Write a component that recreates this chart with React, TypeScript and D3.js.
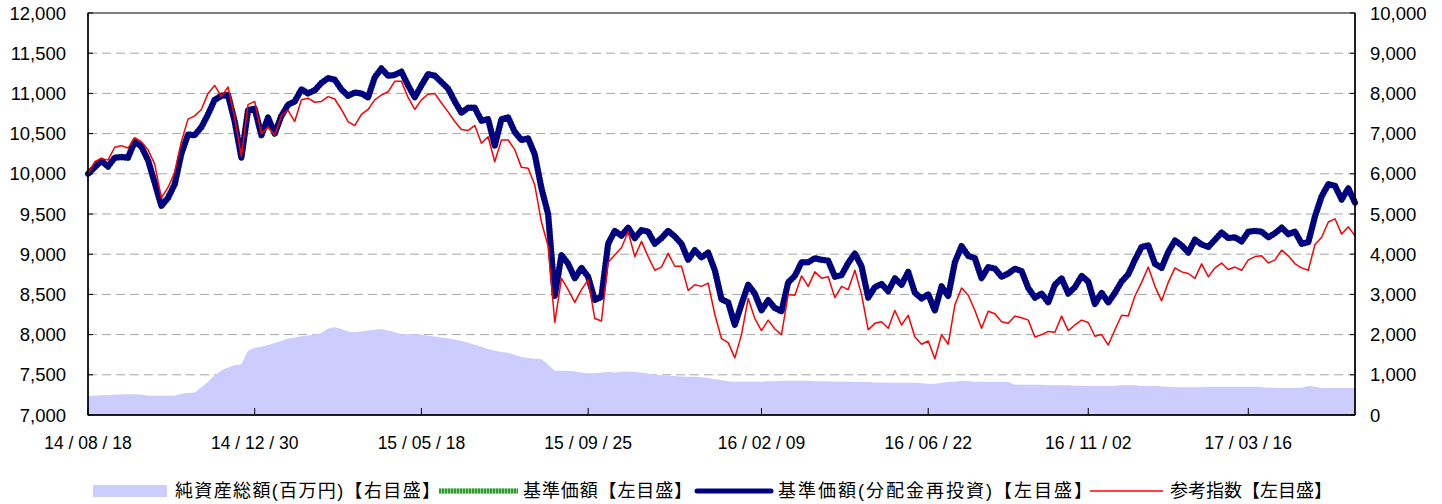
import * as d3 from "d3";

// 日次データを約3.6営業日ごとに読み取った値（左目盛）
const navReinvested = [
  10000, 10080, 10160, 10090, 10200, 10210, 10200, 10400, 10340, 10170,
  9890, 9600, 9700, 9870, 10250, 10490, 10480, 10580, 10740, 10920,
  10970, 10980, 10650, 10200, 10790, 10810, 10480, 10700, 10500, 10720,
  10860, 10900, 11050, 11000, 11040, 11130, 11190, 11170, 11050, 10970,
  11010, 11000, 10950, 11200, 11310, 11220, 11230, 11270, 11100, 10950,
  11100, 11240, 11220, 11140, 11060, 10900, 10760, 10820, 10820, 10660,
  10680, 10350, 10680, 10700, 10520, 10420, 10440, 10240, 9820, 9500,
  8480, 8990, 8880, 8700, 8830, 8720, 8430, 8470, 9130, 9290,
  9230, 9330, 9200, 9300, 9280, 9130, 9200, 9290, 9220, 9130,
  8930, 9050, 8960, 9020, 8800, 8440, 8400, 8120, 8380, 8620,
  8510, 8300, 8430, 8330, 8290, 8650, 8730, 8900, 8900, 8950,
  8930, 8920, 8720, 8740, 8890, 9010, 8850, 8460, 8590, 8630,
  8540, 8700, 8620, 8780, 8520, 8450, 8500, 8300, 8600, 8480,
  8900, 9100, 8980, 8950, 8700, 8840, 8820, 8720, 8760, 8820,
  8790, 8580, 8460, 8510, 8400, 8620, 8700, 8510, 8590, 8730,
  8660, 8380, 8520, 8400, 8520, 8660, 8750, 8930, 9090, 9110,
  8880, 8830, 9030, 9170, 9110, 9020, 9180, 9120, 9090, 9180,
  9270, 9200, 9210, 9160, 9280, 9290, 9280, 9210, 9260, 9330,
  9250, 9280, 9130, 9150, 9470, 9720, 9870, 9850, 9680, 9820,
  9640,
];

// 分配実績なし：基準価額は分配金再投資後と同じ値
const nav = navReinvested;

const benchmark = [
  10000, 10150, 10190, 10170, 10330, 10350, 10320, 10450, 10400, 10300,
  10120, 9700, 9830, 10020, 10400, 10680, 10720, 10800, 11000, 11100,
  10960, 11080, 10700, 10220, 10860, 10900, 10500, 10580, 10480, 10720,
  10790, 10650, 10920, 10940, 10890, 10900, 10960, 10930, 10800, 10650,
  10600, 10740, 10800, 10920, 10980, 11020, 11150, 11150, 10950, 10800,
  10920, 10990, 11000, 10880, 10770, 10650, 10550, 10540, 10600, 10380,
  10460, 10150, 10420, 10420, 10300, 10080, 10070, 9860, 9400, 9100,
  8150, 8700, 8560, 8400, 8560, 8680, 8200, 8170, 8900, 8990,
  9080, 9280, 8970, 9160, 8970, 8800, 8840, 9010, 8850, 8850,
  8550, 8620, 8600, 8640, 8250, 7950, 7900, 7710, 8000, 8450,
  8200, 8050, 8180, 8070, 8000, 8500, 8490, 8730, 8600, 8780,
  8700, 8720, 8460, 8600, 8560, 8800, 8500, 8060, 8140, 8160,
  8080, 8300, 8120, 8240, 7970, 7880, 7920, 7700, 8000, 7880,
  8370, 8580, 8490, 8300, 8080, 8290, 8260, 8160, 8140, 8230,
  8210, 8180, 7970, 8000, 8040, 8030, 8230, 8050, 8120, 8180,
  8150, 7980, 8000, 7870, 8060, 8240, 8230, 8480, 8650, 8840,
  8600, 8420, 8650, 8830, 8780, 8760, 8700, 8880, 8720, 8830,
  8890, 8810, 8840, 8800, 8930, 8970, 8980, 8890, 8930, 9050,
  8980, 8880, 8830, 8800, 9120, 9210, 9400, 9440, 9250, 9340,
  9230,
];

// 純資産総額（百万円、右目盛）
const netAssets = [
  480, 480, 490, 490, 510, 510, 515, 515, 510, 480,
  480, 480, 480, 480, 530, 550, 560, 690, 830, 990,
  1110, 1180, 1240, 1260, 1600, 1670, 1700, 1740, 1790, 1840,
  1900, 1930, 1960, 1980, 2000, 2040, 2150, 2180, 2140, 2080,
  2060, 2080, 2100, 2120, 2140, 2100, 2060, 2010, 2010, 2010,
  2000, 1970, 1950, 1930, 1910, 1880, 1840, 1800, 1750, 1700,
  1640, 1600, 1570, 1550, 1500, 1440, 1420, 1400, 1390, 1250,
  1100, 1100, 1100, 1080, 1060, 1040, 1040, 1060, 1070, 1060,
  1080, 1080, 1070, 1050, 1030, 1000, 990, 980, 970, 960,
  950, 950, 940, 920, 890, 870, 840, 830, 830, 830,
  830, 830, 840, 840, 850, 850, 850, 850, 850, 840,
  840, 840, 830, 830, 830, 820, 820, 820, 810, 810,
  800, 800, 800, 800, 800, 790, 770, 780, 800, 820,
  830, 850, 840, 830, 830, 820, 820, 820, 820, 750,
  750, 750, 750, 750, 740, 740, 740, 740, 730, 730,
  720, 720, 720, 720, 730, 740, 740, 740, 720, 720,
  720, 710, 700, 690, 690, 690, 690, 690, 700, 700,
  700, 700, 700, 700, 700, 700, 690, 680, 680, 670,
  670, 670, 680, 720, 700, 670, 670, 670, 670, 670,
  670,
];

const dateLabels = ["14/08/18", "14/12/30", "15/05/18", "15/09/25", "16/02/09", "16/06/22", "16/11/02", "17/03/16"];
const dateIndex = [0, 25, 50, 75, 101, 126, 150, 174];
const leftTicks = [7000, 7500, 8000, 8500, 9000, 9500, 10000, 10500, 11000, 11500, 12000];
const rightTicks = [0, 1000, 2000, 3000, 4000, 5000, 6000, 7000, 8000, 9000, 10000];

const W = 1442;
const H = 504;
const FONT = "'Liberation Sans', Arial, 'Noto Sans CJK JP', sans-serif";

export default function App() {
  const m = { left: 88, right: 1355, top: 13, bottom: 415 };

  const x = d3.scaleLinear().domain([0, navReinvested.length - 1]).range([m.left, m.right]);
  const yL = d3.scaleLinear().domain([7000, 12000]).range([m.bottom, m.top]);
  const yR = d3.scaleLinear().domain([0, 10000]).range([m.bottom, m.top]);

  const lineL = d3.line<number>().x((_, i) => x(i)).y(d => yL(d));
  const area = d3.area<number>().x((_, i) => x(i)).y0(yR(0)).y1(d => yR(d));

  const fmt = d3.format(",");
  const legendY = 491;

  return (
    <svg width={W} height={H} style={{ position: "absolute", left: 0, top: 0, display: "block", background: "#fff" }} fontFamily={FONT}>
      {/* grid */}
      {leftTicks.slice(1, -1).map(t => (
        <line key={"g" + t} x1={m.left} x2={m.right} y1={yL(t)} y2={yL(t)} stroke="#a6a6a6" strokeWidth={1} strokeDasharray="9,5" />
      ))}

      {/* net assets area */}
      <path d={area(netAssets) ?? ""} fill="#ccccff" />

      {/* NAV lines */}
      <path d={lineL(nav) ?? ""} fill="none" stroke="#2f9a2f" strokeWidth={6.5} strokeDasharray="1.5,1.5" strokeLinejoin="round" />
      <path d={lineL(navReinvested) ?? ""} fill="none" stroke="#000080" strokeWidth={6} strokeLinejoin="round" strokeLinecap="round" />
      <path d={lineL(benchmark) ?? ""} fill="none" stroke="#ff0000" strokeWidth={1.5} strokeLinejoin="round" />

      {/* frame */}
      <rect x={m.left} y={m.top} width={m.right - m.left} height={m.bottom - m.top} fill="none" stroke="#000" strokeWidth={1} />
      <line x1={m.left} x2={m.left} y1={m.top} y2={m.bottom} stroke="#000" strokeWidth={1.5} />
      <line x1={m.right} x2={m.right} y1={m.top} y2={m.bottom} stroke="#000" strokeWidth={1.5} />
      <line x1={m.left} x2={m.right} y1={m.bottom} y2={m.bottom} stroke="#000" strokeWidth={1.5} />

      {/* left axis */}
      {leftTicks.map(t => (
        <g key={"l" + t}>
          <line x1={m.left} x2={m.left + 5} y1={yL(t)} y2={yL(t)} stroke="#000" />
          <text x={66} y={yL(t)} textAnchor="end" dominantBaseline="central" fontSize={18.5} fill="#000">{fmt(t)}</text>
        </g>
      ))}

      {/* right axis */}
      {rightTicks.map(t => (
        <g key={"r" + t}>
          <line x1={m.right - 5} x2={m.right} y1={yR(t)} y2={yR(t)} stroke="#000" />
          <text x={1370} y={yR(t)} textAnchor="start" dominantBaseline="central" fontSize={18.5} fill="#000">{fmt(t)}</text>
        </g>
      ))}

      {/* x axis */}
      {dateIndex.map((d, i) => (
        <g key={"x" + d}>
          <line x1={x(d)} x2={x(d)} y1={m.bottom} y2={m.bottom - 7} stroke="#000" />
          <text x={x(d)} y={443} textAnchor="middle" dominantBaseline="central" fontSize={17.5} fill="#000">
            {dateLabels[i].split("/").join(" / ")}
          </text>
        </g>
      ))}

      {/* legend */}
      <g fontSize={18} fill="#000">
        <rect x={93} y={485} width={74} height={12} fill="#ccccff" />
        <text x={175} y={legendY} dominantBaseline="central" textLength={265} lengthAdjust="spacing">純資産総額(百万円)【右目盛】</text>

        <line x1={439} x2={518} y1={legendY} y2={legendY} stroke="#8fd08f" strokeWidth={5} />
        <line x1={439} x2={518} y1={legendY} y2={legendY} stroke="#2f9a2f" strokeWidth={5} strokeDasharray="2,1" />
        <text x={523} y={legendY} dominantBaseline="central" textLength={169} lengthAdjust="spacing">基準価額【左目盛】</text>

        <line x1={697} x2={771} y1={legendY} y2={legendY} stroke="#000080" strokeWidth={5} strokeLinecap="round" />
        <text x={778} y={legendY} dominantBaseline="central" textLength={314} lengthAdjust="spacing">基準価額(分配金再投資)【左目盛】</text>

        <line x1={1090} x2={1163} y1={legendY} y2={legendY} stroke="#ff0000" strokeWidth={1.5} />
        <text x={1170} y={legendY} dominantBaseline="central">参考指数【左目盛】</text>
      </g>
    </svg>
  );
}
